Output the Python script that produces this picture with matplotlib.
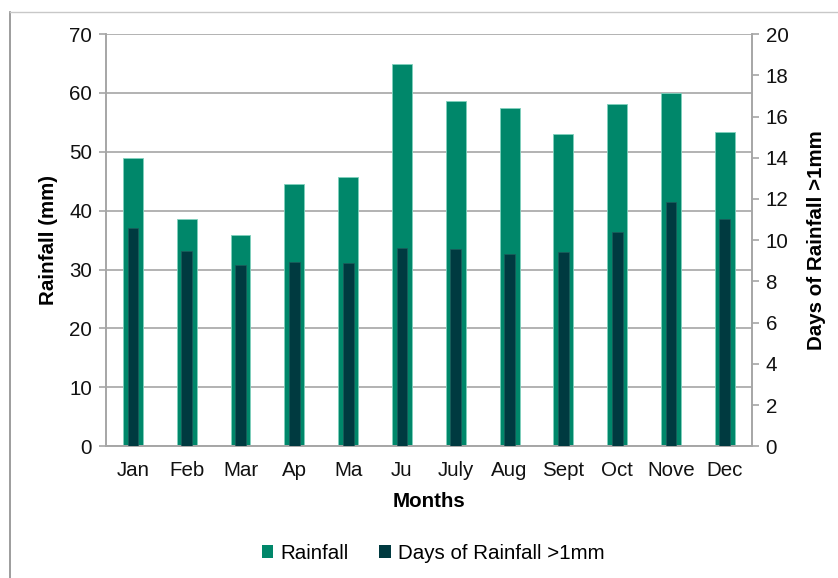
import matplotlib.pyplot as plt
import numpy as np
from matplotlib.lines import Line2D
from matplotlib.patches import Patch

months = ["Jan", "Feb", "Mar", "Ap", "Ma", "Ju", "July", "Aug", "Sept", "Oct", "Nove", "Dec"]
rainfall = [48.9, 38.6, 35.8, 44.5, 45.8, 64.9, 58.7, 57.4, 53.0, 58.1, 60.0, 53.4]
rain_days = [10.6, 9.45, 8.8, 8.95, 8.9, 9.6, 9.55, 9.35, 9.42, 10.4, 11.85, 11.02]

green = "#00876a"
dark = "#003a40"
grid_col = "#a6a6a6"
fs = 14.8

plt.rcParams["font.family"] = ["Liberation Sans", "DejaVu Sans"]

fig = plt.figure(figsize=(8.38, 5.78), dpi=100)
ax = fig.add_axes([0.1265, 0.228, 0.7705, 0.713])
ax2 = ax.twinx()

x = np.arange(len(months))
ax.bar(x, rainfall, width=0.37, color=green, edgecolor="#7fd1bd", linewidth=0.6, zorder=2)
ax2.bar(x, rain_days, width=0.2, color=dark, edgecolor="#1f5c5c", linewidth=0.5, zorder=3)

ax.set_ylim(0, 70)
ax.set_yticks(range(0, 71, 10))
ax2.set_ylim(0, 20)
ax2.set_yticks(range(0, 21, 2))
ax.set_xlim(-0.5, len(months) - 0.5)
ax.set_xticks(x)
ax.set_xticklabels(months)

ax.yaxis.grid(True, color=grid_col, linewidth=1.2, zorder=0)
ax.set_axisbelow(True)

for a in (ax, ax2):
    a.spines["top"].set_visible(False)
    for s in ("left", "right", "bottom"):
        a.spines[s].set_color(grid_col)
        a.spines[s].set_linewidth(1.2)
    a.tick_params(axis="y", labelsize=fs, color=grid_col, width=1.2, length=5,
                  labelcolor="#111111", pad=5)

ax.tick_params(axis="x", labelsize=fs, length=0, pad=11, labelcolor="#111111")

ax.set_ylabel("Rainfall (mm)", fontsize=fs, fontweight="bold", labelpad=8)
ax2.set_ylabel("Days of Rainfall >1mm", fontsize=fs, fontweight="bold", labelpad=13)
ax.set_xlabel("Months", fontsize=fs, fontweight="bold", labelpad=8)

handles = [Patch(facecolor=green, label="Rainfall"),
           Patch(facecolor=dark, label="Days of Rainfall >1mm")]
fig.legend(handles=handles, loc="center", bbox_to_anchor=(0.517, 0.043), ncol=2,
           frameon=False, fontsize=fs, handlelength=0.55, handleheight=0.55,
           handletextpad=0.35, columnspacing=1.5)

# outer chart frame (only left and top edges show in the original crop)
fig.add_artist(Line2D([9.5 / 838, 9.5 / 838], [0, 1 - 12 / 578], transform=fig.transFigure,
                      color="#8c8c8c", linewidth=1.2))
fig.add_artist(Line2D([9.5 / 838, 1], [1 - 12 / 578, 1 - 12 / 578], transform=fig.transFigure,
                      color="#c8c8c8", linewidth=1))

fig.savefig("out.png", dpi=100)
